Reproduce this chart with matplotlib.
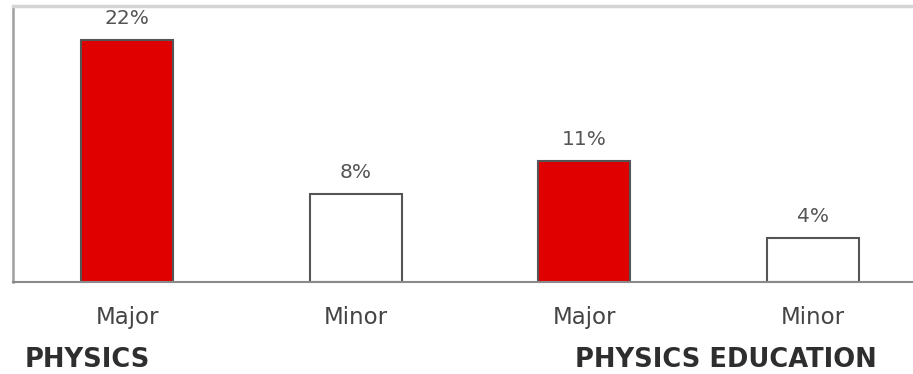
import matplotlib
matplotlib.use("Agg")
import matplotlib.pyplot as plt
import numpy as np

# data
categories = ["Major", "Minor", "Major", "Minor"]
values = [22, 8, 11, 4]
groups = ["PHYSICS", "PHYSICS EDUCATION"]
bar_colors = ["#e00000", "#ffffff", "#e00000", "#ffffff"]

fig = plt.figure(figsize=(9.13, 3.74), dpi=100)
fig.patch.set_facecolor("white")

# axes run off the right edge like in the (cropped) original
ax = fig.add_axes([0.01386, 0.246, 1.002, 0.738])
x = np.arange(len(values))
ax.bar(x, values, width=0.402, color=bar_colors, edgecolor="#555555", linewidth=1.5)

for xi, v in zip(x, values):
    ax.annotate(f"{v}%", (xi, v), xytext=(0, 9), textcoords="offset points",
                ha="center", va="bottom", fontsize=14.5, color="#555555")

ax.set_xlim(-0.5, 3.5)
ax.set_ylim(0, 25.1)
ax.set_yticks([])
ax.set_xticks(x)
ax.set_xticklabels(categories, fontsize=16.5, color="#444444")
ax.tick_params(axis="x", length=0, pad=17)

ax.spines["top"].set_color("#d4d4d4")
ax.spines["top"].set_linewidth(2.5)
ax.spines["left"].set_color("#a0a0a0")
ax.spines["left"].set_linewidth(1.8)
ax.spines["bottom"].set_color("#8a8a8a")
ax.spines["bottom"].set_linewidth(1.5)
ax.spines["right"].set_visible(False)

fig.text(25 / 913, 14 / 374, groups[0], fontsize=18.5, fontweight="bold",
         color="#2e2e2e", ha="left", va="center")
fig.text(575 / 913, 14 / 374, groups[1], fontsize=18.5, fontweight="bold",
         color="#2e2e2e", ha="left", va="center")

fig.savefig("out.png", dpi=100)
